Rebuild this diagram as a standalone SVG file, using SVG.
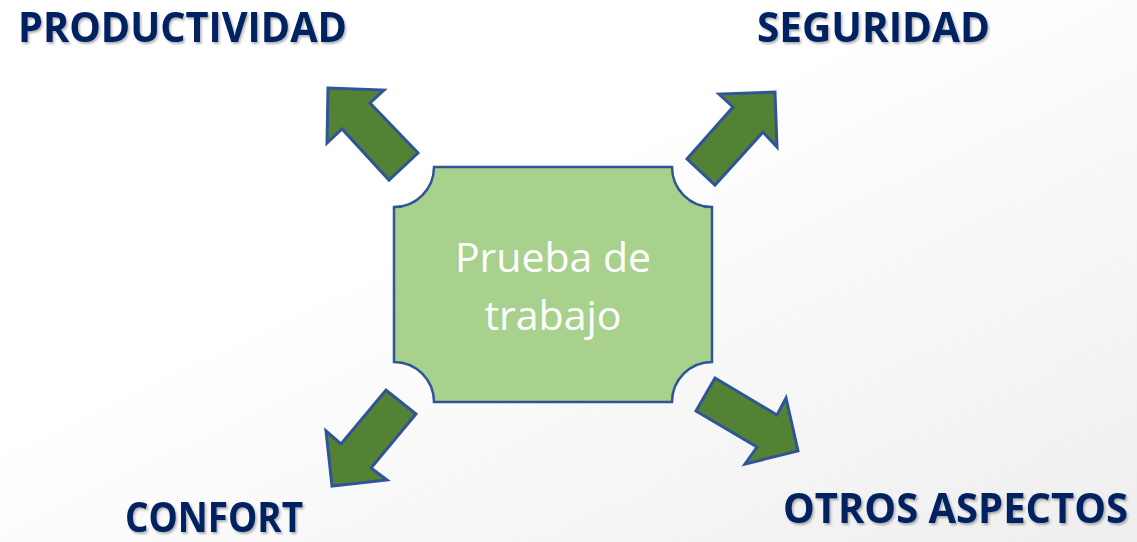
<svg xmlns="http://www.w3.org/2000/svg" width="1137" height="542" viewBox="0 0 1137 542">
  <defs>
    <linearGradient id="bg" x1="0.4" y1="0.4" x2="1" y2="1">
      <stop offset="0" stop-color="#ffffff"/>
      <stop offset="1" stop-color="#eeeeee"/>
    </linearGradient>
    <filter id="shadow" x="-5%" y="-20%" width="115%" height="150%">
      <feDropShadow dx="1.5" dy="2" stdDeviation="1.2" flood-color="#000000" flood-opacity="0.3"/>
    </filter>
  </defs>
  <style>
    .label { font-family: "Open Sans", "Liberation Sans", sans-serif; font-weight: bold; font-size: 41px; fill: #002060; filter: url(#shadow); }
    .arrow { fill: #548235; stroke: #2F5597; stroke-width: 3; stroke-linejoin: miter; }
    .box { fill: #A9D18E; stroke: #2F5597; stroke-width: 2.5; }
    .center { font-family: "Open Sans", "Liberation Sans", sans-serif; font-size: 41px; fill: #ffffff; text-anchor: middle; }
  </style>
  <rect x="0" y="0" width="1137" height="542" fill="url(#bg)"/>

  <g id="connectors">
    <polygon class="arrow" points="328,88 384,90 370,103 418,153 389,180 342,129 327,143"/>
    <polygon class="arrow" points="775,92 777,147 763,132 715,185 687,159 733,107 719,94"/>
    <polygon class="arrow" points="332,486 326,431 341,444 386,390 416,414 371,468 387,480"/>
    <polygon class="arrow" points="715,378 777,415 786,398 798,451 745,464 757,447 696,411"/>
  </g>

  <g id="center-node">
    <path class="box" d="M 434 167 L 672 167 A 40 40 0 0 0 712 207 L 712 362 A 40 40 0 0 0 672 402 L 434 402 A 40 40 0 0 0 394 362 L 394 207 A 40 40 0 0 0 434 167 Z"/>
    <text class="center" x="553" y="272">Prueba de</text>
    <text class="center" x="553" y="330">trabajo</text>
  </g>

  <g id="productividad">
    <text class="label" x="18" y="42" textLength="329" lengthAdjust="spacingAndGlyphs">PRODUCTIVIDAD</text>
  </g>
  <g id="seguridad">
    <text class="label" x="757" y="42" textLength="233" lengthAdjust="spacingAndGlyphs">SEGURIDAD</text>
  </g>
  <g id="confort">
    <text class="label" x="125" y="532" textLength="178" lengthAdjust="spacingAndGlyphs">CONFORT</text>
  </g>
  <g id="otros-aspectos">
    <text class="label" x="783" y="523" textLength="345" lengthAdjust="spacingAndGlyphs">OTROS ASPECTOS</text>
  </g>
</svg>
